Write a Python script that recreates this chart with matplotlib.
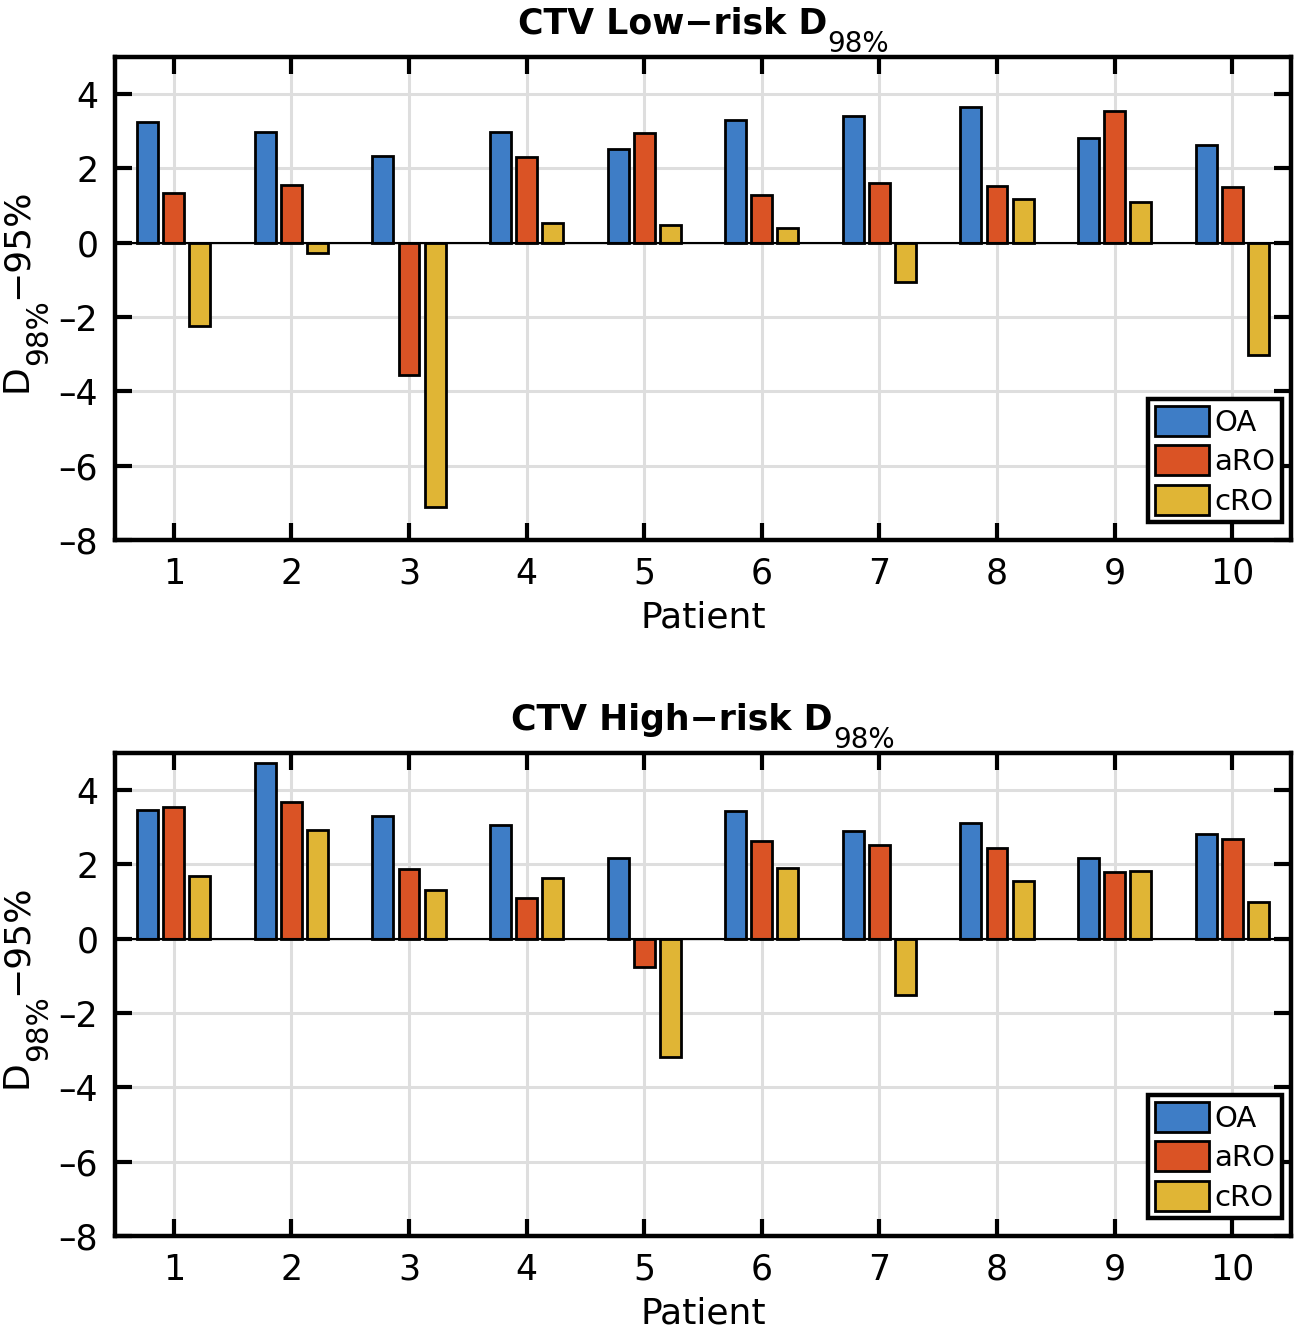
import matplotlib
matplotlib.use('Agg')
import matplotlib.pyplot as plt
from matplotlib.transforms import IdentityTransform
from matplotlib.ticker import FuncFormatter
import numpy as np

patients = [1, 2, 3, 4, 5, 6, 7, 8, 9, 10]
series = ['OA', 'aRO', 'cRO']

low_oa = [3.25, 2.97, 2.34, 2.98, 2.53, 3.30, 3.42, 3.65, 2.82, 2.62]
low_aro = [1.33, 1.56, -3.56, 2.32, 2.95, 1.29, 1.61, 1.52, 3.54, 1.50]
low_cro = [-2.25, -0.27, -7.12, 0.53, 0.48, 0.40, -1.05, 1.18, 1.11, -3.02]

high_oa = [3.46, 4.73, 3.31, 3.06, 2.17, 3.45, 2.90, 3.11, 2.18, 2.82]
high_aro = [3.55, 3.68, 1.87, 1.10, -0.76, 2.63, 2.53, 2.45, 1.79, 2.68]
high_cro = [1.69, 2.93, 1.30, 1.63, -3.18, 1.91, -1.51, 1.55, 1.82, 0.99]

colors = ['#3E7DC6', '#DA5325', '#E0B535']

plt.rcParams['font.family'] = ['DejaVu Sans']

W, H = 1299, 1328
fig = plt.figure(figsize=(W / 100, H / 100), dpi=100)
renderer = fig.canvas.get_renderer()

# axes boxes in pixels (left, top, right, bottom) measured from top-left
boxes = [(115, 57, 1291, 540), (115, 753, 1291, 1236)]


def ytick_fmt(v, pos):
    s = '%d' % v
    return s.replace('-', '\u2013')


def draw_panel(ax, data):
    x = np.array(patients)
    offset = 2.0 / 9.0
    width = 0.8 * offset
    for i, (vals, name) in enumerate(zip(data, series)):
        ax.bar(x + (i - 1) * offset, vals, width, color=colors[i],
               edgecolor='black', linewidth=2.0, label=name, zorder=3)
    ax.axhline(0, color='black', linewidth=1.5, zorder=4)
    ax.set_xlim(0.5, 10.5)
    ax.set_ylim(-8, 5)
    ax.set_xticks(patients)
    ax.set_yticks([-8, -6, -4, -2, 0, 2, 4])
    ax.yaxis.set_major_formatter(FuncFormatter(ytick_fmt))
    ax.grid(True, color='#dedede', linewidth=2.2, zorder=0)
    ax.set_axisbelow(True)
    ax.tick_params(direction='in', length=12, width=3, labelsize=25,
                   top=True, right=True, pad=12)
    for s in ax.spines.values():
        s.set_linewidth(3.2)
    ax.set_xlabel('Patient', fontsize=26, labelpad=7)
    leg = ax.legend(loc='lower right', bbox_to_anchor=(0.9923, 0.037),
                    fontsize=21, frameon=True, fancybox=False, borderaxespad=0,
                    borderpad=0.22, handlelength=1.85, handleheight=1.2,
                    handletextpad=0.2, labelspacing=0.3)
    leg.get_frame().set_edgecolor('black')
    leg.get_frame().set_linewidth(3.2)
    leg.get_frame().set_alpha(1)


def sub_title(box, main, sub, size):
    left, top, right, bottom = box
    t1 = fig.text(0, 0, main, fontsize=size, fontweight='bold',
                  ha='left', va='baseline', transform=IdentityTransform())
    t2 = fig.text(0, 0, sub, fontsize=size * 0.8,
                  ha='left', va='baseline', transform=IdentityTransform())
    w1 = t1.get_window_extent(renderer).width
    w2 = t2.get_window_extent(renderer).width
    cx = (left + right) / 2
    x0 = cx - (w1 + w2) / 2
    yb = H - top + 23
    t1.set_position((x0, yb))
    t2.set_position((x0 + w1, yb - 18))


def sub_ylabel(box, size):
    left, top, right, bottom = box
    parts = [('D', size, 0), ('98%', size * 0.82, 20), ('−95%', size, 0)]
    texts = []
    for s, fs, drop in parts:
        t = fig.text(0, 0, s, fontsize=fs, rotation=90, rotation_mode='anchor',
                     ha='left', va='baseline', transform=IdentityTransform())
        texts.append((t, t.get_window_extent(renderer).height, drop))
    total = sum(h for _, h, _ in texts)
    cy = H - (top + bottom) / 2 + 8
    y = cy - total / 2
    xb = 27
    for t, h, drop in texts:
        t.set_position((xb + drop, y))
        y += h


data_sets = [[low_oa, low_aro, low_cro], [high_oa, high_aro, high_cro]]
titles = ['CTV Low−risk D', 'CTV High−risk D']

for box, data, title in zip(boxes, data_sets, titles):
    left, top, right, bottom = box
    ax = fig.add_axes([left / W, 1 - bottom / H, (right - left) / W, (bottom - top) / H])
    draw_panel(ax, data)
    sub_title(box, title, '98%', 25)
    sub_ylabel(box, 26)

fig.savefig('out.png', dpi=100)
